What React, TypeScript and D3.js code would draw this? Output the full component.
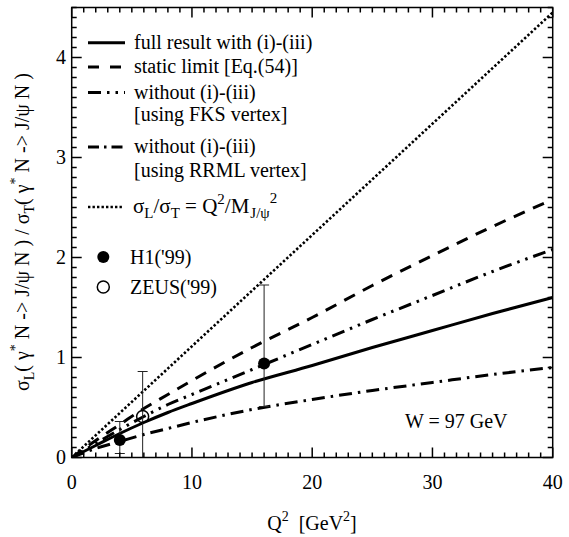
import React from "react";
import * as d3 from "d3";

// Q^2 grid (GeV^2) for the theory curves
const q2Grid = [0, 2, 4, 6, 8, 10, 15, 20, 25, 30, 35, 40];
// full result with (i)-(iii)
const fullResult = [0, 0.12, 0.24, 0.35, 0.45, 0.54, 0.75, 0.92, 1.1, 1.27, 1.44, 1.6];
// static limit [Eq.(54)]
const staticLimit = [0, 0.17, 0.33, 0.49, 0.63, 0.77, 1.1, 1.4, 1.72, 2.02, 2.31, 2.58];
// without (i)-(iii), FKS vertex
const withoutFKS = [0, 0.14, 0.28, 0.41, 0.53, 0.63, 0.88, 1.13, 1.38, 1.62, 1.86, 2.08];
// without (i)-(iii), RRML vertex
const withoutRRML = [0, 0.09, 0.16, 0.23, 0.29, 0.35, 0.48, 0.58, 0.67, 0.75, 0.83, 0.9];
// sigma_L / sigma_T = Q^2 / M^2
const ratioQ2 = [0, 40];
const ratioValues = [0, 4.45];

// H1 ('99) data
const h1Q2 = [4, 16];
const h1Values = [0.175, 0.94];
const h1Low = [0.04, 0.51];
const h1High = [0.36, 1.725];
// ZEUS ('99) data
const zeusQ2 = [5.9];
const zeusValues = [0.41];
const zeusLow = [0];
const zeusHigh = [0.86];

const xTickLabels = [0, 10, 20, 30, 40];
const yTickLabels = [0, 1, 2, 3, 4];

const W = 569;
const H = 537;
const FONT = "Liberation Serif, Times New Roman, DejaVu Serif, serif";

export default function App() {
  const x = d3.scaleLinear().domain([0, 40]).range([71.7, 552.7]);
  const y = d3.scaleLinear().domain([0, 4.5]).range([457.5, 7.5]);

  const line = d3
    .line<[number, number]>()
    .x((d) => x(d[0]))
    .y((d) => y(d[1]))
    .curve(d3.curveMonotoneX);

  const toPts = (xs: number[], ys: number[]) =>
    xs.map((v, i) => [v, ys[i]] as [number, number]);

  const curves = [
    { vals: staticLimit, dash: "12 9" },
    { vals: withoutFKS, dash: "13 6 2.5 6 2.5 6" },
    { vals: withoutRRML, dash: "13 6 2.5 6" },
    { vals: fullResult, dash: "" },
  ];

  const [x0, x1] = x.range();
  const [y0, y1] = y.range();

  const xMinor = d3.range(0, 41);
  const yMinor = d3.range(0, 46).map((i) => i / 10);

  const legendLines = [
    { y: 42.7, dash: "", text: "full result with (i)-(iii)", tb: 48.5 },
    { y: 67, dash: "11 11", text: "static limit [Eq.(54)]", tb: 73 },
    { y: 92.5, dash: "13 6 2.5 6 2.5 6", text: "without (i)-(iii)", tb: 98.5 },
    { y: null, dash: "", text: "[using FKS vertex]", tb: 121 },
    { y: 147, dash: "11 5 2.5 5", text: "without (i)-(iii)", tb: 153 },
    { y: null, dash: "", text: "[using RRML vertex]", tb: 177 },
  ];

  const sub = { fontSize: 14 };
  const sub15 = { fontSize: 15 };

  return (
    <svg
      width={W}
      height={H}
      style={{ position: "absolute", left: 0, top: 0, background: "#fff", fontFamily: FONT }}
    >
      <defs>
        <clipPath id="plotArea">
          <rect x={x0} y={y1} width={x1 - x0} height={y0 - y1} />
        </clipPath>
      </defs>

      {/* theory curves */}
      <g clipPath="url(#plotArea)" fill="none" stroke="#000">
        <path
          d={line(toPts(ratioQ2, ratioValues)) || ""}
          strokeWidth={2.6}
          strokeDasharray="2.4 2.1"
        />
        {curves.map((c, i) => (
          <path
            key={i}
            d={line(toPts(q2Grid, c.vals)) || ""}
            strokeWidth={3}
            strokeDasharray={c.dash}
          />
        ))}
      </g>

      {/* error bars */}
      <g stroke="#222" strokeWidth={1}>
        {[...h1Q2.map((q, i) => [q, h1Low[i], h1High[i]]), ...zeusQ2.map((q, i) => [q, zeusLow[i], zeusHigh[i]])].map(
          ([q, lo, hi], i) => (
            <g key={i}>
              <line x1={x(q)} x2={x(q)} y1={y(lo)} y2={y(hi)} />
              <line x1={x(q) - 5} x2={x(q) + 5} y1={y(hi)} y2={y(hi)} />
              <line x1={x(q) - 5} x2={x(q) + 5} y1={y(lo)} y2={y(lo)} />
            </g>
          )
        )}
      </g>

      {/* data points */}
      {h1Q2.map((q, i) => (
        <circle key={"h" + i} cx={x(q)} cy={y(h1Values[i])} r={6} fill="#000" />
      ))}
      {zeusQ2.map((q, i) => (
        <circle
          key={"z" + i}
          cx={x(q)}
          cy={y(zeusValues[i])}
          r={6}
          fill="none"
          stroke="#000"
          strokeWidth={1.5}
        />
      ))}

      {/* frame and ticks */}
      <g stroke="#000" strokeWidth={1.5}>
        <rect x={x0} y={y1} width={x1 - x0} height={y0 - y1} fill="none" />
        {xMinor.map((v) => {
          const len = v % 10 === 0 ? 10 : 5;
          return (
            <g key={"xt" + v}>
              <line x1={x(v)} x2={x(v)} y1={y0} y2={y0 - len} />
              <line x1={x(v)} x2={x(v)} y1={y1} y2={y1 + len} />
            </g>
          );
        })}
        {yMinor.map((v, i) => {
          const len = i % 10 === 0 ? 10 : 5;
          return (
            <g key={"yt" + i}>
              <line x1={x0} x2={x0 + len} y1={y(v)} y2={y(v)} />
              <line x1={x1} x2={x1 - len} y1={y(v)} y2={y(v)} />
            </g>
          );
        })}
      </g>

      {/* tick labels */}
      <g fontSize={20} fill="#000">
        {xTickLabels.map((v) => (
          <text key={"xl" + v} x={x(v)} y={489} textAnchor="middle">
            {v}
          </text>
        ))}
        {yTickLabels.map((v) => (
          <text key={"yl" + v} x={66} y={y(v) + 6.5} textAnchor="end">
            {v}
          </text>
        ))}
      </g>

      {/* axis titles */}
      <text x={312} y={530} fontSize={20} textAnchor="middle">
        Q<tspan fontSize={14} dy={-9}>2</tspan>
        <tspan dy={9}>{"\u00a0 [GeV"}</tspan>
        <tspan fontSize={14} dy={-9}>2</tspan>
        <tspan dy={9}>]</tspan>
      </text>
      <text
        transform="translate(29,232) rotate(-90)"
        fontSize={20}
        textAnchor="middle"
      >
        σ<tspan {...sub} dy={5}>L</tspan>
        <tspan dy={-5}>{"( γ"}</tspan>
        <tspan {...sub} dy={-9}>*</tspan>
        <tspan dy={9}>{" N -> J/ψ N )  /  σ"}</tspan>
        <tspan {...sub} dy={5}>T</tspan>
        <tspan dy={-5}>{"( γ"}</tspan>
        <tspan {...sub} dy={-9}>*</tspan>
        <tspan dy={9}>{" N -> J/ψ N )"}</tspan>
      </text>

      {/* legend */}
      <g fontSize={20}>
        {legendLines.map((l, i) => (
          <g key={"lg" + i}>
            {l.y !== null && (
              <line
                x1={88}
                x2={125}
                y1={l.y}
                y2={l.y}
                stroke="#000"
                strokeWidth={3}
                strokeDasharray={l.dash}
              />
            )}
            <text x={134} y={l.tb}>
              {l.text}
            </text>
          </g>
        ))}
        <line
          x1={88}
          x2={123}
          y1={207}
          y2={207}
          stroke="#000"
          strokeWidth={2.6}
          strokeDasharray="2.4 2.1"
        />
        <text x={133} y={213} fontSize={21}>
          σ<tspan {...sub15} dy={5}>L</tspan>
          <tspan dy={-5}>/σ</tspan>
          <tspan {...sub15} dy={5}>T</tspan>
          <tspan dy={-5}>{" = Q"}</tspan>
          <tspan {...sub15} dy={-9}>2</tspan>
          <tspan dy={9}>{"/M"}</tspan>
          <tspan {...sub15} dy={5} dx={1}>J/ψ</tspan>
          <tspan {...sub15} dy={-15}>2</tspan>
        </text>
        <circle cx={103.3} cy={257} r={6} fill="#000" />
        <text x={130} y={263.5}>H1('99)</text>
        <circle cx={103.3} cy={287} r={6} fill="none" stroke="#000" strokeWidth={1.5} />
        <text x={130} y={293.5}>ZEUS('99)</text>
      </g>

      <text x={405} y={428} fontSize={20}>
        W = 97 GeV
      </text>
    </svg>
  );
}
